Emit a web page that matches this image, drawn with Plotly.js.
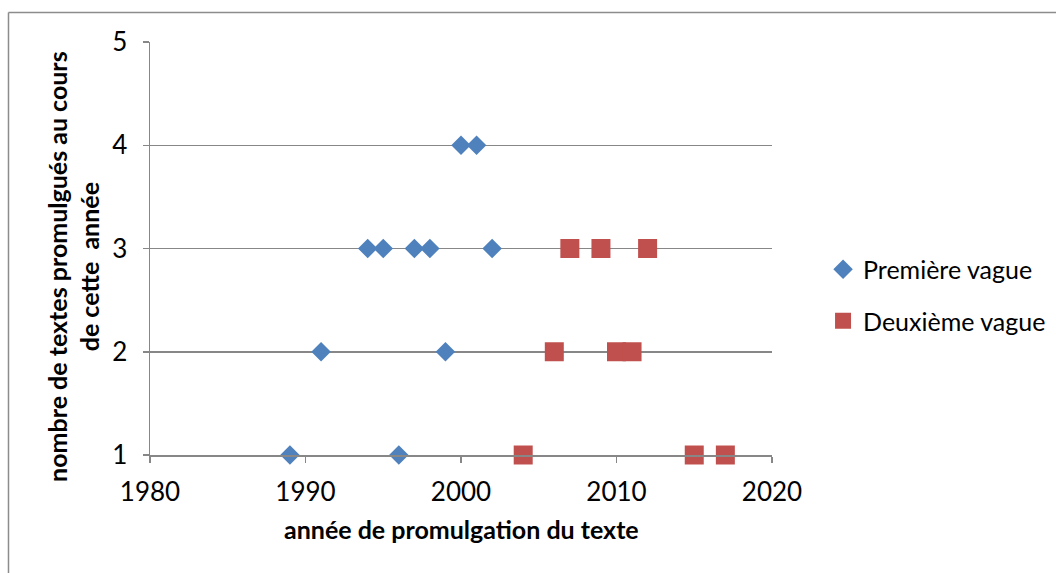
<!DOCTYPE html>
<html>
<head>
<meta charset="utf-8">
<script src="https://cdn.plot.ly/plotly-3.0.1.min.js"></script>
<style>
html,body{margin:0;padding:0;background:#fff;}
#chart{width:1056px;height:573px;}
</style>
</head>
<body>
<div id="chart"></div>
<script>
// Première vague
const years1 = [1989, 1996, 1991, 1999, 1994, 1995, 1997, 1998, 2002, 2000, 2001];
const counts1 = [1, 1, 2, 2, 3, 3, 3, 3, 3, 4, 4];
// Deuxième vague
const years2 = [2004, 2015, 2017, 2006, 2010, 2011, 2007, 2009, 2012];
const counts2 = [1, 1, 1, 2, 2, 2, 3, 3, 3];

const seriesNames = ["Première vague", "Deuxième vague"];
const xTitle = "année de promulgation du texte";
const yTitle = "nombre de textes promulgués au cours<br>de cette  année";

const FONT = "Lato, 'Open Sans', sans-serif";
const GREY = "#878787";

const traces = [
  {
    x: years1, y: counts1, name: seriesNames[0], type: "scatter", mode: "markers",
    cliponaxis: false, legendgroup: "a",
    marker: {symbol: "diamond", size: 15, color: "#4F81BD", line: {width: 0}}
  },
  {
    x: years2, y: counts2, name: seriesNames[1], type: "scatter", mode: "markers",
    cliponaxis: false, legendgroup: "b",
    marker: {symbol: "square", size: 19, color: "#C0504D", line: {width: 0}}
  }
];

const layout = {
  width: 1056, height: 573,
  margin: {l: 150, r: 284, t: 42, b: 118, pad: 0, autoexpand: false},
  paper_bgcolor: "#fff", plot_bgcolor: "#fff",
  font: {family: FONT, color: "#000", size: 26},
  showlegend: true,
  legend: {
    xref: "container", yref: "container",
    x: 0.7794, xanchor: "left", y: 0.485, yanchor: "middle",
    font: {family: FONT, size: 25, color: "#000"},
    traceorder: "grouped", tracegroupgap: 16,
    bgcolor: "rgba(0,0,0,0)"
  },
  xaxis: {
    range: [1980, 2020], dtick: 10, tick0: 1980,
    showgrid: false, zeroline: false, automargin: false,
    showline: true, linecolor: GREY, linewidth: 1.5,
    ticks: "outside", ticklen: 6, tickcolor: GREY, tickwidth: 1.5,
    tickfont: {family: FONT, size: 26, color: "#000"},
    ticklabelstandoff: 7
  },
  yaxis: {
    range: [1, 5], dtick: 1, tick0: 1,
    showgrid: true, gridcolor: GREY, gridwidth: 1.5, zeroline: false, automargin: false,
    showline: true, linecolor: GREY, linewidth: 1.5,
    ticks: "outside", ticklen: 6, tickcolor: GREY, tickwidth: 1.5,
    tickfont: {family: FONT, size: 26, color: "#000"},
    ticklabelstandoff: 10
  },
  annotations: [
    {
      text: "<b>" + xTitle + "</b>", xref: "paper", yref: "paper",
      x: 0.5, y: -0.18, xanchor: "center", yanchor: "middle", showarrow: false,
      font: {family: FONT, size: 25, color: "#000"}
    },
    {
      text: "<b>" + yTitle + "</b>", xref: "paper", yref: "paper",
      x: -0.124, y: 0.4576, xanchor: "center", yanchor: "middle", showarrow: false,
      textangle: -90, align: "center",
      font: {family: FONT, size: 25, color: "#000"}
    }
  ],
  shapes: [
    {type: "line", xref: "paper", yref: "paper", x0: -0.2275, x1: -0.2275, y0: 1.0714, y1: -0.4,
     line: {color: "#8c8c8c", width: 1.5}},
    {type: "line", xref: "paper", yref: "paper", x0: -0.2275, x1: 1.6, y0: 1.0714, y1: 1.0714,
     line: {color: "#8c8c8c", width: 1.5}}
  ]
};

Plotly.newPlot("chart", traces, layout, {displayModeBar: false, staticPlot: true});
</script>
</body>
</html>
